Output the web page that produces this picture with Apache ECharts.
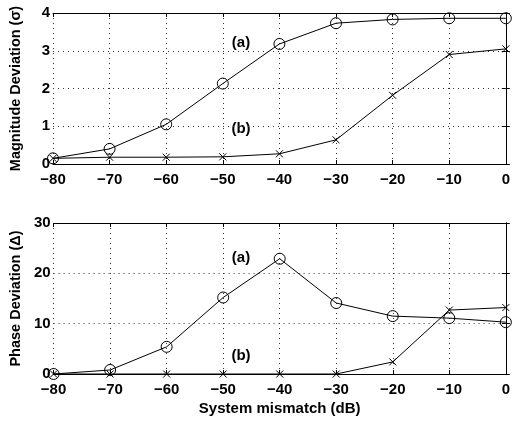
<!DOCTYPE html>
<html>
<head>
<meta charset="utf-8">
<script src="https://cdn.jsdelivr.net/npm/echarts@6/dist/echarts.min.js"></script>
<style>html,body{margin:0;padding:0;background:#fff}</style>
</head>
<body>
<div id="main" style="width:513px;height:421px;"></div>
<script>
// mismatch levels (dB)
var mismatch = [-80, -70, -60, -50, -40, -30, -20, -10, 0];
// magnitude deviation
var magA = [0.15, 0.4, 1.05, 2.13, 3.18, 3.73, 3.83, 3.86, 3.86];
var magB = [0.15, 0.18, 0.18, 0.19, 0.27, 0.64, 1.82, 2.9, 3.05];
// phase deviation
var phA = [0, 0.8, 5.4, 15.2, 22.9, 14.1, 11.5, 11.1, 10.3];
var phB = [0, 0, 0, 0, 0, 0, 2.4, 12.7, 13.2];

var font = 'Liberation Sans, Arial, sans-serif';
var crossPath = 'path://M0,0L10,10M10,0L0,10';

function pairs(ys) {
    return mismatch.map(function (x, i) { return [x, ys[i]]; });
}

function xAx(idx, pos, labels, name) {
    return {
        type: 'value', gridIndex: idx, position: pos,
        min: -80, max: 0, interval: 10,
        axisLine: { show: true, onZero: false, lineStyle: { color: '#000', width: 1 } },
        axisTick: { show: true, inside: true, length: 4, lineStyle: { color: '#000' } },
        axisLabel: {
            show: labels, color: '#000', fontFamily: font, fontWeight: 'bold', fontSize: 15, margin: 8,
            formatter: function (v) { return String(v).replace('-', '\u2212'); }
        },
        splitLine: { show: labels, lineStyle: { color: '#333', type: [1, 4], width: 1 } },
        name: name || '', nameLocation: 'middle', nameGap: 27,
        nameTextStyle: { color: '#000', fontFamily: font, fontWeight: 'bold', fontSize: 15 }
    };
}

function yAx(idx, pos, labels, max, interval, name) {
    return {
        type: 'value', gridIndex: idx, position: pos,
        min: 0, max: max, interval: interval,
        axisLine: { show: true, lineStyle: { color: '#000', width: 1 } },
        axisTick: { show: true, inside: true, length: 4, lineStyle: { color: '#000' } },
        axisLabel: { show: labels, color: '#000', fontFamily: font, fontWeight: 'bold', fontSize: 15, margin: 3 },
        splitLine: { show: labels, lineStyle: { color: '#333', type: [1, 4], width: 1 } },
        name: name || '', nameLocation: 'middle', nameGap: 30, nameRotate: 90,
        nameTextStyle: { color: '#000', fontFamily: font, fontWeight: 'bold', fontSize: 14.5 }
    };
}

function ser(xi, yi, data, sym) {
    return {
        type: 'line', xAxisIndex: xi, yAxisIndex: yi, data: data,
        symbol: sym, symbolSize: sym === 'circle' ? 11 : 7,
        showSymbol: true,
        lineStyle: { color: '#000', width: 1 },
        itemStyle: { color: 'rgba(0,0,0,0)', borderColor: '#000', borderWidth: 1 },
        animation: false, silent: true, z: 5
    };
}

function note(txt, x, y) {
    return {
        type: 'text', x: x, y: y,
        style: { text: txt, fill: '#000', font: 'bold 15px ' + font, align: 'center', verticalAlign: 'middle' }
    };
}

var chart = echarts.init(document.getElementById('main'));
chart.setOption({
    backgroundColor: '#fff',
    animation: false,
    grid: [
        { left: 49, top: 13, width: 459, height: 151 },
        { left: 49, top: 223, width: 459, height: 151 }
    ],
    xAxis: [
        xAx(0, 'bottom', true),
        xAx(0, 'top', false),
        xAx(1, 'bottom', true, 'System mismatch (dB)'),
        xAx(1, 'top', false)
    ],
    yAxis: [
        yAx(0, 'left', true, 4, 1, 'Magnitude Deviation (\u03c3)'),
        yAx(0, 'right', false, 4, 1),
        yAx(1, 'left', true, 30, 10, 'Phase Deviation (\u0394)'),
        yAx(1, 'right', false, 30, 10)
    ],
    series: [
        ser(0, 0, pairs(magA), 'circle'),
        ser(0, 0, pairs(magB), crossPath),
        ser(2, 2, pairs(phA), 'circle'),
        ser(2, 2, pairs(phB), crossPath)
    ],
    graphic: [
        note('(a)', 241, 43),
        note('(b)', 241, 129),
        note('(a)', 241, 258),
        note('(b)', 241, 356)
    ]
});
</script>
</body>
</html>
